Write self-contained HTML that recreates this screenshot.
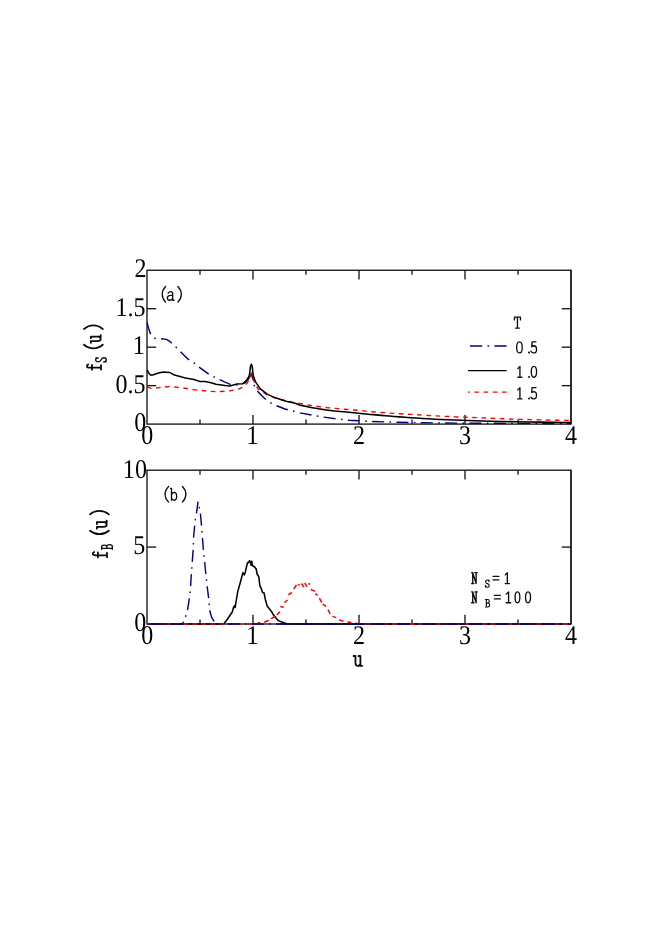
<!DOCTYPE html>
<html><head><meta charset="utf-8"><title>figure</title>
<style>
html,body{margin:0;padding:0;background:#fff;}
body{width:654px;height:925px;overflow:hidden;font-family:"Liberation Sans",sans-serif;}
svg{display:block;will-change:transform;}
text{text-rendering:geometricPrecision;}
</style></head><body>
<svg width="654" height="925" viewBox="0 0 654 925">
<rect width="654" height="925" fill="#fff"/>
<rect x="147.00" y="270.25" width="424.00" height="153.85" fill="none" stroke="#161616" stroke-width="1.35"/>
<line x1="571.00" y1="270.25" x2="571.00" y2="424.10" stroke="#161616" stroke-width="1.35" />
<line x1="200.00" y1="424.10" x2="200.00" y2="419.50" stroke="#161616" stroke-width="1.35" />
<line x1="200.00" y1="270.25" x2="200.00" y2="274.85" stroke="#161616" stroke-width="1.35" />
<line x1="253.00" y1="424.10" x2="253.00" y2="414.90" stroke="#161616" stroke-width="1.35" />
<line x1="253.00" y1="270.25" x2="253.00" y2="279.45" stroke="#161616" stroke-width="1.35" />
<line x1="306.00" y1="424.10" x2="306.00" y2="419.50" stroke="#161616" stroke-width="1.35" />
<line x1="306.00" y1="270.25" x2="306.00" y2="274.85" stroke="#161616" stroke-width="1.35" />
<line x1="359.00" y1="424.10" x2="359.00" y2="414.90" stroke="#161616" stroke-width="1.35" />
<line x1="359.00" y1="270.25" x2="359.00" y2="279.45" stroke="#161616" stroke-width="1.35" />
<line x1="412.00" y1="424.10" x2="412.00" y2="419.50" stroke="#161616" stroke-width="1.35" />
<line x1="412.00" y1="270.25" x2="412.00" y2="274.85" stroke="#161616" stroke-width="1.35" />
<line x1="465.00" y1="424.10" x2="465.00" y2="414.90" stroke="#161616" stroke-width="1.35" />
<line x1="465.00" y1="270.25" x2="465.00" y2="279.45" stroke="#161616" stroke-width="1.35" />
<line x1="518.00" y1="424.10" x2="518.00" y2="419.50" stroke="#161616" stroke-width="1.35" />
<line x1="518.00" y1="270.25" x2="518.00" y2="274.85" stroke="#161616" stroke-width="1.35" />
<line x1="147.00" y1="308.71" x2="156.20" y2="308.71" stroke="#161616" stroke-width="1.35" />
<line x1="571.00" y1="308.71" x2="561.80" y2="308.71" stroke="#161616" stroke-width="1.35" />
<line x1="147.00" y1="347.18" x2="156.20" y2="347.18" stroke="#161616" stroke-width="1.35" />
<line x1="571.00" y1="347.18" x2="561.80" y2="347.18" stroke="#161616" stroke-width="1.35" />
<line x1="147.00" y1="385.64" x2="156.20" y2="385.64" stroke="#161616" stroke-width="1.35" />
<line x1="571.00" y1="385.64" x2="561.80" y2="385.64" stroke="#161616" stroke-width="1.35" />
<path d="M147.00,322.80 L148.60,328.30 L150.50,333.90 L152.50,337.00 L154.80,338.20 L160.30,338.60 L166.40,339.40 L169.00,340.80 L171.30,342.80 L175.60,346.70 L180.50,351.60 L187.80,358.90 L193.90,362.80 L198.80,366.90 L208.00,373.60 L213.70,376.70 L219.60,379.70 L225.00,382.20 L230.30,384.30 L236.00,385.00 L241.00,384.60 L245.00,382.80 L248.00,380.00 L250.00,376.50 L251.30,373.00" fill="none" stroke="#000080" stroke-width="1.42" stroke-linejoin="round" stroke-dasharray="12 5.3 1.6 5.3" />
<path d="M251.30,373.00 L252.60,378.50 L254.00,385.00 L257.80,391.40 L262.00,396.00 L266.40,400.00 L271.50,403.40 L277.40,406.00 L285.00,409.00 L294.20,411.30 L300.00,412.90 L312.50,415.20 L323.00,417.00 L337.00,419.00 L349.00,420.20 L358.00,420.80 L367.60,421.30 L385.00,421.90 L410.00,422.50 L440.00,423.00 L480.00,423.30 L571.00,423.50" fill="none" stroke="#000080" stroke-width="1.42" stroke-linejoin="round" stroke-dasharray="12 5.37 1.6 5.37" stroke-dashoffset="5.14" />
<path d="M147.20,386.50 L149.00,387.60 L151.00,388.30 L157.20,387.90 L169.50,386.50 L181.70,387.70 L193.90,389.80 L206.20,391.00 L216.00,391.70 L227.20,391.10 L237.00,389.90 L243.00,387.00 L247.40,382.80 L249.50,378.50 L250.60,374.80 L251.30,373.00 L252.20,375.50 L253.50,380.40 L257.80,388.90 L267.60,395.00 L276.00,398.40 L285.00,400.60 L294.00,402.40 L308.00,405.00 L310.07,405.31 L312.98,405.76 L316.38,406.26 L319.91,406.77 L323.20,407.20 L326.25,407.55 L329.31,407.86 L332.38,408.15 L335.44,408.42 L338.50,408.70 L341.56,408.97 L344.62,409.23 L347.69,409.48 L350.75,409.74 L353.80,410.00 L356.83,410.27 L359.85,410.55 L362.87,410.84 L365.91,411.12 L369.00,411.40 L372.00,411.68 L374.88,411.95 L377.87,412.23 L381.17,412.51 L385.00,412.80 L389.43,413.10 L394.32,413.42 L399.55,413.74 L405.02,414.06 L410.60,414.40 L416.24,414.75 L422.00,415.12 L427.99,415.48 L434.29,415.85 L441.00,416.20 L448.22,416.53 L455.88,416.85 L463.84,417.17 L471.93,417.48 L480.00,417.80 L487.94,418.13 L495.85,418.46 L503.89,418.80 L512.22,419.11 L521.00,419.40 L531.15,419.67 L542.56,419.93 L553.86,420.16 L563.63,420.36 L570.50,420.50" fill="none" stroke="#ff0000" stroke-width="1.4" stroke-linejoin="round" stroke-dasharray="4.6 4.594" />
<path d="M147.20,369.90 L148.50,372.60 L150.00,374.60 L151.70,375.20 L154.00,374.60 L158.50,373.00 L163.30,372.10 L169.50,372.40 L172.00,373.60 L174.40,375.10 L185.40,377.90 L193.90,379.50 L200.00,381.60 L205.00,381.40 L211.00,382.80 L216.00,384.30 L225.00,385.60 L229.70,385.90 L237.00,384.00 L242.50,383.70 L245.00,382.00 L246.80,379.80 L248.40,377.50 L249.30,375.50 L250.00,371.00 L250.50,366.20 L251.30,364.30 L252.20,366.30 L252.70,371.00 L253.30,375.80 L255.40,381.60 L260.30,388.90 L267.60,394.40 L276.20,398.10 L286.00,401.20 L295.00,403.20 L300.30,405.20 L302.38,405.63 L305.32,406.26 L308.75,406.97 L312.30,407.68 L315.60,408.30 L318.66,408.82 L321.72,409.32 L324.78,409.78 L327.84,410.20 L330.90,410.60 L334.01,410.96 L337.17,411.28 L340.30,411.57 L343.34,411.84 L346.20,412.10 L348.84,412.34 L351.30,412.56 L353.67,412.77 L356.01,412.98 L358.40,413.20 L360.80,413.43 L363.17,413.67 L365.56,413.91 L368.02,414.15 L370.60,414.40 L373.16,414.64 L375.66,414.88 L378.33,415.12 L381.37,415.39 L385.00,415.70 L389.33,416.06 L394.20,416.46 L399.48,416.88 L404.99,417.30 L410.60,417.70 L416.32,418.08 L422.24,418.46 L428.35,418.83 L434.61,419.18 L441.00,419.50 L447.43,419.80 L453.92,420.07 L460.59,420.33 L467.58,420.57 L475.00,420.80 L482.84,421.02 L491.01,421.24 L499.54,421.44 L508.47,421.62 L517.80,421.80 L528.55,421.97 L540.70,422.14 L552.74,422.28 L563.17,422.41 L570.50,422.50" fill="none" stroke="#000000" stroke-width="1.55" stroke-linejoin="round"  />
<rect x="147.00" y="470.20" width="424.00" height="153.80" fill="none" stroke="#161616" stroke-width="1.35"/>
<line x1="571.00" y1="470.20" x2="571.00" y2="624.00" stroke="#161616" stroke-width="1.35" />
<line x1="200.00" y1="624.00" x2="200.00" y2="619.40" stroke="#161616" stroke-width="1.35" />
<line x1="200.00" y1="470.20" x2="200.00" y2="474.80" stroke="#161616" stroke-width="1.35" />
<line x1="253.00" y1="624.00" x2="253.00" y2="614.80" stroke="#161616" stroke-width="1.35" />
<line x1="253.00" y1="470.20" x2="253.00" y2="479.40" stroke="#161616" stroke-width="1.35" />
<line x1="306.00" y1="624.00" x2="306.00" y2="619.40" stroke="#161616" stroke-width="1.35" />
<line x1="306.00" y1="470.20" x2="306.00" y2="474.80" stroke="#161616" stroke-width="1.35" />
<line x1="359.00" y1="624.00" x2="359.00" y2="614.80" stroke="#161616" stroke-width="1.35" />
<line x1="359.00" y1="470.20" x2="359.00" y2="479.40" stroke="#161616" stroke-width="1.35" />
<line x1="412.00" y1="624.00" x2="412.00" y2="619.40" stroke="#161616" stroke-width="1.35" />
<line x1="412.00" y1="470.20" x2="412.00" y2="474.80" stroke="#161616" stroke-width="1.35" />
<line x1="465.00" y1="624.00" x2="465.00" y2="614.80" stroke="#161616" stroke-width="1.35" />
<line x1="465.00" y1="470.20" x2="465.00" y2="479.40" stroke="#161616" stroke-width="1.35" />
<line x1="518.00" y1="624.00" x2="518.00" y2="619.40" stroke="#161616" stroke-width="1.35" />
<line x1="518.00" y1="470.20" x2="518.00" y2="474.80" stroke="#161616" stroke-width="1.35" />
<line x1="147.00" y1="547.10" x2="156.20" y2="547.10" stroke="#161616" stroke-width="1.35" />
<line x1="571.00" y1="547.10" x2="561.80" y2="547.10" stroke="#161616" stroke-width="1.35" />
<path d="M147.00,624.00 L218.00,624.00 L223.60,624.00 L227.20,619.50 L230.90,614.00 L232.30,612.00 L233.70,606.80 L234.60,605.90 L235.10,607.60 L236.40,599.50 L237.80,591.40 L240.10,583.20 L242.90,572.60 L244.30,574.90 L245.40,571.70 L247.50,562.60 L248.40,562.80 L249.60,560.70 L250.20,561.60 L251.10,565.30 L251.80,561.20 L252.50,565.80 L254.40,566.70 L256.20,569.00 L257.10,574.00 L258.80,576.80 L259.90,585.90 L261.00,587.80 L262.60,592.40 L264.00,592.80 L265.40,599.70 L267.20,606.10 L269.50,608.90 L271.80,612.00 L273.40,614.80 L276.20,618.20 L278.20,620.60 L281.70,622.00 L287.20,624.00 L291.30,624.00 L571.00,624.00" fill="none" stroke="#000000" stroke-width="1.55" stroke-linejoin="round"  />
<path d="M147.00,624.00 L256.00,624.00" fill="none" stroke="#ff0000" stroke-width="1.5" stroke-linejoin="round" stroke-dasharray="4.6 4.46" />
<path d="M362.00,624.00 L571.00,624.00" fill="none" stroke="#ff0000" stroke-width="1.5" stroke-linejoin="round" stroke-dasharray="4.6 4.4" stroke-dashoffset="6.10" />
<path d="M257.6,623.0 L260.0,622.5 M264.1,622.3 L268.6,620.3 M271.0,618.9 L274.8,616.5 M276.8,615.1 L279.9,611.7 M280.3,606.4 L283.7,607.3 M284.4,602.7 L287.5,600.0 M288.3,594.8 L291.9,592.5 M293.7,589.0 L296.5,584.8 M297.8,584.4 L299.7,585.0 M301.5,583.5 L303.8,587.1 M304.7,583.0 L307.0,586.7 M308.4,583.5 L310.2,584.4 M310.7,589.4 L314.8,591.3 M315.3,593.6 L317.6,595.4 M319.4,598.1 L321.7,602.7 M322.6,604.1 L326.3,606.4 M328.0,609.7 L330.1,614.0 M332.4,616.4 L336.2,617.6 M339.1,620.1 L343.4,621.2 M347.4,621.8 L351.5,622.8 M355.5,622.9 L357.0,623.3" fill="none" stroke="#ff0000" stroke-width="1.5"/>
<path d="M147.00,624.00 L178.00,624.00 L182.30,624.00 L184.00,620.60 L185.50,616.90 L187.40,611.00 L189.20,599.30 L190.00,593.10 L190.60,586.20 L191.30,574.50 L191.80,568.70 L192.20,562.10 L193.20,549.70 L193.60,537.30 L194.70,524.90 L195.40,519.10 L196.60,512.50 L198.05,501.60 L199.40,508.40 L200.50,514.70 L201.60,526.40 L202.00,532.70 L202.70,541.00 L203.50,551.20 L204.20,557.50 L204.90,564.30 L205.90,575.30 L206.70,581.80 L207.40,588.40 L208.90,600.10 L209.30,606.60 L210.00,611.80 L211.50,616.90 L213.20,619.80 L215.10,622.70 L216.60,624.00 L219.00,624.00" fill="none" stroke="#000080" stroke-width="1.42" stroke-linejoin="round" stroke-dasharray="12 5.35 1.6 5.35" stroke-dashoffset="22.80" />
<path d="M219.00,624.00 L571.00,624.00" fill="none" stroke="#000080" stroke-width="1.6" stroke-linejoin="round" stroke-dasharray="12.2 5.25 1.6 5.25" stroke-dashoffset="15.90" />
<text transform="translate(146.60,277.40) scale(0.89,1)" text-anchor="end" font-family="Liberation Serif" font-size="27.0" fill="#000">2</text>
<text transform="translate(145.60,316.10) scale(0.89,1)" text-anchor="end" font-family="Liberation Serif" font-size="27.0" fill="#000">1.5</text>
<text transform="translate(144.70,353.90) scale(0.89,1)" text-anchor="end" font-family="Liberation Serif" font-size="27.0" fill="#000">1</text>
<text transform="translate(145.60,393.10) scale(0.89,1)" text-anchor="end" font-family="Liberation Serif" font-size="27.0" fill="#000">0.5</text>
<text transform="translate(146.20,430.90) scale(0.89,1)" text-anchor="end" font-family="Liberation Serif" font-size="27.0" fill="#000">0</text>
<text transform="translate(146.90,478.10) scale(0.89,1)" text-anchor="end" font-family="Liberation Serif" font-size="27.0" fill="#000">10</text>
<text transform="translate(145.20,554.10) scale(0.89,1)" text-anchor="end" font-family="Liberation Serif" font-size="27.0" fill="#000">5</text>
<text transform="translate(146.20,630.80) scale(0.89,1)" text-anchor="end" font-family="Liberation Serif" font-size="27.0" fill="#000">0</text>
<text transform="translate(147.20,444.10) scale(0.89,1)" text-anchor="middle" font-family="Liberation Serif" font-size="27.0" fill="#000">0</text>
<text transform="translate(252.50,444.10) scale(0.89,1)" text-anchor="middle" font-family="Liberation Serif" font-size="27.0" fill="#000">1</text>
<text transform="translate(359.00,444.10) scale(0.89,1)" text-anchor="middle" font-family="Liberation Serif" font-size="27.0" fill="#000">2</text>
<text transform="translate(465.00,444.10) scale(0.89,1)" text-anchor="middle" font-family="Liberation Serif" font-size="27.0" fill="#000">3</text>
<text transform="translate(571.00,444.10) scale(0.89,1)" text-anchor="middle" font-family="Liberation Serif" font-size="27.0" fill="#000">4</text>
<text transform="translate(147.20,644.00) scale(0.89,1)" text-anchor="middle" font-family="Liberation Serif" font-size="27.0" fill="#000">0</text>
<text transform="translate(252.50,644.00) scale(0.89,1)" text-anchor="middle" font-family="Liberation Serif" font-size="27.0" fill="#000">1</text>
<text transform="translate(359.00,644.00) scale(0.89,1)" text-anchor="middle" font-family="Liberation Serif" font-size="27.0" fill="#000">2</text>
<text transform="translate(465.00,644.00) scale(0.89,1)" text-anchor="middle" font-family="Liberation Serif" font-size="27.0" fill="#000">3</text>
<text transform="translate(571.00,644.00) scale(0.89,1)" text-anchor="middle" font-family="Liberation Serif" font-size="27.0" fill="#000">4</text>
<path d="M0,0 C1.3,0.3 1.3,0.7 0,1" transform="matrix(0,-3.800,18.800,0,84.000,329.000)" fill="none" stroke="#0a0a0a" stroke-width="1.8" stroke-linecap="round" stroke-linejoin="round" vector-effect="non-scaling-stroke"/>
<path d="M0,0 L0.22,0 L0.22,0.68 Q0.22,1 0.5,1 Q0.74,1 0.8,0.78 M0.58,0 L0.8,0 L0.8,1 L1,1" transform="matrix(0,-7.700,9.800,0,90.900,342.800)" fill="none" stroke="#0a0a0a" stroke-width="1.8" stroke-linecap="round" stroke-linejoin="round" vector-effect="non-scaling-stroke"/>
<path d="M1,0 C-0.3,0.3 -0.3,0.7 1,1" transform="matrix(0,-3.700,18.800,0,84.000,348.400)" fill="none" stroke="#0a0a0a" stroke-width="1.8" stroke-linecap="round" stroke-linejoin="round" vector-effect="non-scaling-stroke"/>
<path d="M0.9,0.22 Q0.88,0 0.5,0 Q0.08,0 0.08,0.25 Q0.08,0.44 0.5,0.5 Q0.96,0.56 0.96,0.77 Q0.96,1 0.5,1 Q0.1,1 0.04,0.76 M0.9,0.02 L0.9,0.24 M0.04,0.74 L0.04,0.98" transform="matrix(0,-4.600,10.700,0,95.650,362.150)" fill="none" stroke="#0a0a0a" stroke-width="1.3" stroke-linecap="round" stroke-linejoin="round" vector-effect="non-scaling-stroke"/>
<path d="M1,0.1 Q0.9,0 0.68,0 Q0.42,0 0.42,0.22 L0.42,1 M0.05,0.36 L0.92,0.36 M0.1,1 L0.85,1" transform="matrix(0,-5.700,14.100,0,86.900,370.100)" fill="none" stroke="#0a0a0a" stroke-width="1.8" stroke-linecap="round" stroke-linejoin="round" vector-effect="non-scaling-stroke"/>
<path d="M0,0 C1.3,0.3 1.3,0.7 0,1" transform="matrix(0,-3.600,18.900,0,90.000,514.400)" fill="none" stroke="#0a0a0a" stroke-width="1.8" stroke-linecap="round" stroke-linejoin="round" vector-effect="non-scaling-stroke"/>
<path d="M0,0 L0.22,0 L0.22,0.68 Q0.22,1 0.5,1 Q0.74,1 0.8,0.78 M0.58,0 L0.8,0 L0.8,1 L1,1" transform="matrix(0,-8.100,9.800,0,96.900,528.700)" fill="none" stroke="#0a0a0a" stroke-width="1.8" stroke-linecap="round" stroke-linejoin="round" vector-effect="non-scaling-stroke"/>
<path d="M1,0 C-0.3,0.3 -0.3,0.7 1,1" transform="matrix(0,-3.500,18.900,0,90.000,534.200)" fill="none" stroke="#0a0a0a" stroke-width="1.8" stroke-linecap="round" stroke-linejoin="round" vector-effect="non-scaling-stroke"/>
<path d="M0,0 L0.58,0 Q0.9,0 0.9,0.24 Q0.9,0.48 0.58,0.48 L0.22,0.48 M0.58,0.48 Q1,0.48 1,0.74 Q1,1 0.58,1 L0,1 M0.22,0 L0.22,1" transform="matrix(0,-4.700,10.700,0,101.650,549.350)" fill="none" stroke="#0a0a0a" stroke-width="1.3" stroke-linecap="round" stroke-linejoin="round" vector-effect="non-scaling-stroke"/>
<path d="M1,0.1 Q0.9,0 0.68,0 Q0.42,0 0.42,0.22 L0.42,1 M0.05,0.36 L0.92,0.36 M0.1,1 L0.85,1" transform="matrix(0,-5.700,14.200,0,92.800,557.700)" fill="none" stroke="#0a0a0a" stroke-width="1.8" stroke-linecap="round" stroke-linejoin="round" vector-effect="non-scaling-stroke"/>
<path d="M0,0 L0.22,0 L0.22,0.68 Q0.22,1 0.5,1 Q0.74,1 0.8,0.78 M0.58,0 L0.8,0 L0.8,1 L1,1" transform="matrix(8.500,0,0,9.900,353.600,656.000)" fill="none" stroke="#0a0a0a" stroke-width="1.8" stroke-linecap="round" stroke-linejoin="round" vector-effect="non-scaling-stroke"/>
<path d="M1,0 C-0.3,0.3 -0.3,0.7 1,1" transform="matrix(3.400,0,0,15.700,162.150,286.450)" fill="none" stroke="#0a0a0a" stroke-width="1.3" stroke-linecap="round" stroke-linejoin="round" vector-effect="non-scaling-stroke"/>
<path d="M0.12,0.16 Q0.3,0 0.52,0 Q0.8,0 0.8,0.28 L0.8,1 L1,1 M0.8,0.48 Q0.6,0.4 0.4,0.43 Q0,0.48 0,0.74 Q0,1 0.34,1 Q0.6,1 0.8,0.8" transform="matrix(6.700,0,0,8.600,167.350,291.650)" fill="none" stroke="#0a0a0a" stroke-width="1.3" stroke-linecap="round" stroke-linejoin="round" vector-effect="non-scaling-stroke"/>
<path d="M0,0 C1.3,0.3 1.3,0.7 0,1" transform="matrix(3.600,0,0,15.700,177.850,286.450)" fill="none" stroke="#0a0a0a" stroke-width="1.3" stroke-linecap="round" stroke-linejoin="round" vector-effect="non-scaling-stroke"/>
<path d="M1,0 C-0.3,0.3 -0.3,0.7 1,1" transform="matrix(3.700,0,0,15.700,164.950,486.450)" fill="none" stroke="#0a0a0a" stroke-width="1.3" stroke-linecap="round" stroke-linejoin="round" vector-effect="non-scaling-stroke"/>
<path d="M0,0 L0.17,0 L0.17,1 M0.17,0.56 Q0.3,0.34 0.6,0.34 Q1,0.34 1,0.67 Q1,1 0.6,1 Q0.3,1 0.17,0.8" transform="matrix(6.200,0,0,11.900,170.450,488.350)" fill="none" stroke="#0a0a0a" stroke-width="1.3" stroke-linecap="round" stroke-linejoin="round" vector-effect="non-scaling-stroke"/>
<path d="M0,0 C1.3,0.3 1.3,0.7 0,1" transform="matrix(3.500,0,0,15.700,182.450,486.450)" fill="none" stroke="#0a0a0a" stroke-width="1.3" stroke-linecap="round" stroke-linejoin="round" vector-effect="non-scaling-stroke"/>
<path d="M0,0.26 L0,0 L1,0 L1,0.26 M0.5,0 L0.5,1 M0.2,1 L0.8,1" transform="matrix(6.000,0,0,11.100,514.450,317.050)" fill="none" stroke="#0a0a0a" stroke-width="1.3" stroke-linecap="round" stroke-linejoin="round" vector-effect="non-scaling-stroke"/>
<path d="M0.5,0 Q1,0 1,0.5 Q1,1 0.5,1 Q0,1 0,0.5 Q0,0 0.5,0 Z" transform="matrix(5.600,0,0,11.100,516.650,341.850)" fill="none" stroke="#0a0a0a" stroke-width="1.3" stroke-linecap="round" stroke-linejoin="round" vector-effect="non-scaling-stroke"/>
<circle cx="529.05" cy="352.55" r="1.05" fill="#0a0a0a"/>
<path d="M0.9,0 L0.2,0 L0.14,0.44 Q0.32,0.35 0.54,0.35 Q1,0.37 1,0.68 Q1,1 0.5,1 Q0.16,1 0,0.84" transform="matrix(5.600,0,0,11.100,530.950,341.850)" fill="none" stroke="#0a0a0a" stroke-width="1.3" stroke-linecap="round" stroke-linejoin="round" vector-effect="non-scaling-stroke"/>
<path d="M0,0.2 L0.52,0 L0.52,1 M0,1 L1,1" transform="matrix(4.200,0,0,10.800,517.750,366.450)" fill="none" stroke="#0a0a0a" stroke-width="1.3" stroke-linecap="round" stroke-linejoin="round" vector-effect="non-scaling-stroke"/>
<circle cx="529.05" cy="376.90" r="1.00" fill="#0a0a0a"/>
<path d="M0.5,0 Q1,0 1,0.5 Q1,1 0.5,1 Q0,1 0,0.5 Q0,0 0.5,0 Z" transform="matrix(5.300,0,0,10.800,531.250,366.450)" fill="none" stroke="#0a0a0a" stroke-width="1.3" stroke-linecap="round" stroke-linejoin="round" vector-effect="non-scaling-stroke"/>
<path d="M0,0.2 L0.52,0 L0.52,1 M0,1 L1,1" transform="matrix(4.200,0,0,11.300,517.750,387.650)" fill="none" stroke="#0a0a0a" stroke-width="1.3" stroke-linecap="round" stroke-linejoin="round" vector-effect="non-scaling-stroke"/>
<circle cx="529.05" cy="398.60" r="1.00" fill="#0a0a0a"/>
<path d="M0.9,0 L0.2,0 L0.14,0.44 Q0.32,0.35 0.54,0.35 Q1,0.37 1,0.68 Q1,1 0.5,1 Q0.16,1 0,0.84" transform="matrix(5.600,0,0,11.300,530.950,387.650)" fill="none" stroke="#0a0a0a" stroke-width="1.3" stroke-linecap="round" stroke-linejoin="round" vector-effect="non-scaling-stroke"/>
<path d="M470,346.0 L506.6,346.0" stroke="#000080" stroke-width="1.45" stroke-dasharray="12.2 5.3 1.6 5.3" fill="none"/>
<path d="M468,370.5 L506.6,370.5" stroke="#000" stroke-width="1.25" fill="none"/>
<path d="M506.6,392.1 L468,392.1" stroke="#ff0000" stroke-width="1.25" stroke-dasharray="4.6 4.6" fill="none"/>
<path d="M0,0 L0.2,0 L0.8,1 L0.8,0 M0.2,0 L0.2,1 M0,1 L0.42,1 M0.58,0 L1,0" transform="matrix(5.650,0,0,10.850,471.600,572.700)" fill="none" stroke="#0a0a0a" stroke-width="1.3" stroke-linecap="round" stroke-linejoin="round" vector-effect="non-scaling-stroke"/>
<path d="M0.9,0.22 Q0.88,0 0.5,0 Q0.08,0 0.08,0.25 Q0.08,0.44 0.5,0.5 Q0.96,0.56 0.96,0.77 Q0.96,1 0.5,1 Q0.1,1 0.04,0.76 M0.9,0.02 L0.9,0.24 M0.04,0.74 L0.04,0.98" transform="matrix(4.200,0,0,7.300,485.250,579.950)" fill="none" stroke="#0a0a0a" stroke-width="1.1" stroke-linecap="round" stroke-linejoin="round" vector-effect="non-scaling-stroke"/>
<path d="M0,0 L1,0 M0,1 L1,1" transform="matrix(5.900,0,0,3.500,493.050,576.350)" fill="none" stroke="#0a0a0a" stroke-width="1.3" stroke-linecap="round" stroke-linejoin="round" vector-effect="non-scaling-stroke"/>
<path d="M0,0.2 L0.52,0 L0.52,1 M0,1 L1,1" transform="matrix(4.200,0,0,10.850,505.150,572.700)" fill="none" stroke="#0a0a0a" stroke-width="1.3" stroke-linecap="round" stroke-linejoin="round" vector-effect="non-scaling-stroke"/>
<path d="M0,0 L0.2,0 L0.8,1 L0.8,0 M0.2,0 L0.2,1 M0,1 L0.42,1 M0.58,0 L1,0" transform="matrix(5.650,0,0,10.800,471.600,591.950)" fill="none" stroke="#0a0a0a" stroke-width="1.3" stroke-linecap="round" stroke-linejoin="round" vector-effect="non-scaling-stroke"/>
<path d="M0,0 L0.58,0 Q0.9,0 0.9,0.24 Q0.9,0.48 0.58,0.48 L0.22,0.48 M0.58,0.48 Q1,0.48 1,0.74 Q1,1 0.58,1 L0,1 M0.22,0 L0.22,1" transform="matrix(4.200,0,0,7.500,485.450,599.550)" fill="none" stroke="#0a0a0a" stroke-width="1.1" stroke-linecap="round" stroke-linejoin="round" vector-effect="non-scaling-stroke"/>
<path d="M0,0 L1,0 M0,1 L1,1" transform="matrix(6.000,0,0,3.500,494.350,595.450)" fill="none" stroke="#0a0a0a" stroke-width="1.3" stroke-linecap="round" stroke-linejoin="round" vector-effect="non-scaling-stroke"/>
<path d="M0,0.2 L0.52,0 L0.52,1 M0,1 L1,1" transform="matrix(4.500,0,0,10.800,506.250,591.950)" fill="none" stroke="#0a0a0a" stroke-width="1.3" stroke-linecap="round" stroke-linejoin="round" vector-effect="non-scaling-stroke"/>
<path d="M0.5,0 Q1,0 1,0.5 Q1,1 0.5,1 Q0,1 0,0.5 Q0,0 0.5,0 Z" transform="matrix(4.800,0,0,10.800,515.050,591.950)" fill="none" stroke="#0a0a0a" stroke-width="1.3" stroke-linecap="round" stroke-linejoin="round" vector-effect="non-scaling-stroke"/>
<path d="M0.5,0 Q1,0 1,0.5 Q1,1 0.5,1 Q0,1 0,0.5 Q0,0 0.5,0 Z" transform="matrix(5.000,0,0,10.800,525.550,591.950)" fill="none" stroke="#0a0a0a" stroke-width="1.3" stroke-linecap="round" stroke-linejoin="round" vector-effect="non-scaling-stroke"/>
</svg>
</body></html>
